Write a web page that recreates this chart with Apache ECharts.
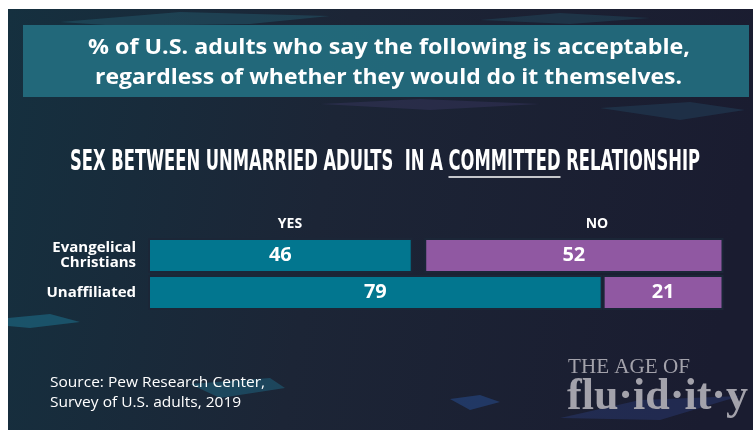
<!DOCTYPE html>
<html>
<head>
<meta charset="utf-8">
<script src="https://cdn.jsdelivr.net/npm/echarts@6/dist/echarts.min.js"></script>
<style>
html,body{margin:0;padding:0;background:#fff;}
#chart{width:753px;height:430px;}
</style>
</head>
<body>
<div id="chart"></div>
<script>
// ---- data ----
const categories = ['Evangelical\nChristians', 'Unaffiliated'];
const yesValues = [46, 79];
const noValues = [52, 21];
const seriesNames = ['YES', 'NO'];
const titleLines = ['% of U.S. adults who say the following is acceptable,', 'regardless of whether they would do it themselves.'];
const subtitleParts = ['SEX BETWEEN UNMARRIED ADULTS  IN A ', 'COMMITTED', ' RELATIONSHIP'];
const sourceLines = ['Source: Pew Research Center,', 'Survey of U.S. adults, 2019'];
const logoLines = ['THE AGE OF', 'flu\u00b7id\u00b7it\u00b7y'];

// ---- styles ----
const TEAL = '#02768f';
const PURPLE = '#9058a2';
const GAPCOL = '#1b2637';

const cv = document.createElement('canvas').getContext('2d');
function measure(font, t) { cv.font = font; return cv.measureText(t).width; }

// title fitting
const titleFont = 'bold 21px "Open Sans", sans-serif';
const t1s = (690 - 88) / measure(titleFont, titleLines[0]);
const t2s = (682 - 95) / measure(titleFont, titleLines[1]);

// subtitle fitting
const subFont = 'bold 28px "Liberation Sans Narrow", "DejaVu Sans Condensed", sans-serif';
const sw = subtitleParts.map(t => measure(subFont, t));
const subLeft = 70, subRight = 700;
const subScale = (subRight - subLeft) / (sw[0] + sw[1] + sw[2]);
const x1 = subLeft + sw[0] * subScale;
const x2 = x1 + sw[1] * subScale;

// source fitting
const srcFont = '15px "Open Sans", sans-serif';
const srcScale = (265 - 50) / measure(srcFont, sourceLines[0]);

// logo fitting
const logoFont1 = '22px "Liberation Serif", "DejaVu Serif", serif';
const logoFont2 = 'bold 44px "Liberation Serif", "DejaVu Serif", serif';
const l1s = (690 - 568) / measure(logoFont1, logoLines[0]);
const l2s = (748 - 567) / measure(logoFont2, logoLines[1]);

const chart = echarts.init(document.getElementById('chart'), null, {renderer: 'canvas'});

const subY = 163;
const graphics = [
  // background
  {type: 'rect', z: -20, shape: {x: 8, y: 9, width: 745, height: 421},
   style: {fill: new echarts.graphic.LinearGradient(0, 0, 1, 0.3, [
     {offset: 0, color: '#15303f'}, {offset: 0.45, color: '#1c2536'}, {offset: 1, color: '#1a1c30'}])}},
  // texture strokes
  {type: 'polygon', z: -19, shape: {points: [[60, 22], [180, 12], [330, 16], [250, 24], [120, 26]]}, style: {fill: 'rgba(40,110,130,0.35)'}},
  {type: 'polygon', z: -19, shape: {points: [[480, 20], [560, 13], [650, 18], [570, 24]]}, style: {fill: 'rgba(40,110,130,0.25)'}},
  {type: 'polygon', z: -19, shape: {points: [[320, 104], [420, 99], [540, 104], [430, 110]]}, style: {fill: 'rgba(80,70,130,0.25)'}},
  {type: 'polygon', z: -19, shape: {points: [[600, 108], [690, 102], [745, 110], [680, 120]]}, style: {fill: 'rgba(40,90,120,0.3)'}},
  {type: 'polygon', z: -19, shape: {points: [[8, 318], [50, 314], [80, 322], [30, 328], [8, 326]]}, style: {fill: 'rgba(30,120,150,0.5)'}},
  {type: 'polygon', z: -19, shape: {points: [[190, 384], [270, 378], [285, 388], [220, 398]]}, style: {fill: 'rgba(30,110,140,0.45)'}},
  {type: 'polygon', z: -19, shape: {points: [[450, 399], [480, 395], [500, 402], [470, 410]]}, style: {fill: 'rgba(40,80,150,0.5)'}},
  {type: 'polygon', z: -19, shape: {points: [[560, 418], [640, 400], [740, 396], [660, 420]]}, style: {fill: 'rgba(50,70,140,0.35)'}},
  // title box
  {type: 'rect', z: -5, shape: {x: 23, y: 25, width: 726, height: 72}, style: {fill: '#236b7d', opacity: 0.95}},
  {type: 'text', x: 88, y: 48, scaleX: t1s, style: {text: titleLines[0], fill: '#ffffff', font: titleFont, textVerticalAlign: 'middle'}},
  {type: 'text', x: 95, y: 78, scaleX: t2s, style: {text: titleLines[1], fill: '#ffffff', font: titleFont, textVerticalAlign: 'middle'}},
  // subtitle
  {type: 'text', x: subLeft, y: subY, scaleX: subScale, style: {text: subtitleParts[0], fill: '#ffffff', font: subFont, textVerticalAlign: 'middle'}},
  {type: 'text', x: x1, y: subY, scaleX: subScale, style: {text: subtitleParts[1], fill: '#ffffff', font: subFont, textVerticalAlign: 'middle'}},
  {type: 'text', x: x2, y: subY, scaleX: subScale, style: {text: subtitleParts[2], fill: '#ffffff', font: subFont, textVerticalAlign: 'middle'}},
  {type: 'line', shape: {x1: x1, y1: 177, x2: x2, y2: 177}, style: {stroke: '#ffffff', lineWidth: 1.5}},
  // headers
  {type: 'text', x: 290, y: 224, style: {text: seriesNames[0], fill: '#ffffff', font: 'bold 14px "Open Sans", sans-serif', textAlign: 'center', textVerticalAlign: 'middle'}},
  {type: 'text', x: 597, y: 224, style: {text: seriesNames[1], fill: '#ffffff', font: 'bold 14px "Open Sans", sans-serif', textAlign: 'center', textVerticalAlign: 'middle'}},
  // source
  {type: 'text', x: 50, y: 383, scaleX: srcScale, style: {text: sourceLines[0], fill: '#ffffff', font: srcFont, textVerticalAlign: 'middle'}},
  {type: 'text', x: 50, y: 403, scaleX: srcScale, style: {text: sourceLines[1], fill: '#ffffff', font: srcFont, textVerticalAlign: 'middle'}},
  // logo
  {type: 'text', x: 568, y: 367, scaleX: l1s, style: {text: logoLines[0], fill: '#a3a2ab', font: logoFont1, textVerticalAlign: 'middle'}},
  {type: 'text', x: 567, y: 398, scaleX: l2s, style: {text: logoLines[1], fill: '#a3a2ab', font: logoFont2, textVerticalAlign: 'middle'}}
];

const option = {
  backgroundColor: '#ffffff',
  animation: false,
  graphic: {elements: graphics},
  grid: {left: 148, right: 29.5, top: 237, height: 74, containLabel: false},
  xAxis: [
    {type: 'value', min: 0, max: 100, show: false},
    {type: 'value', min: 0, max: 100, show: false, inverse: true}
  ],
  yAxis: {
    type: 'category', data: categories, inverse: true,
    axisLine: {show: false}, axisTick: {show: false}, splitLine: {show: false},
    axisLabel: {color: '#ffffff', fontFamily: '"Open Sans", sans-serif', fontWeight: 'bold', fontSize: 15, lineHeight: 15, align: 'right', margin: 12}
  },
  series: [
    {name: seriesNames[0], type: 'bar', xAxisIndex: 0, data: yesValues, barWidth: 35, barGap: '-100%',
     itemStyle: {color: TEAL, borderColor: GAPCOL, borderWidth: 2},
     label: {show: true, position: 'inside', color: '#ffffff', fontFamily: '"Open Sans", sans-serif', fontWeight: 'bold', fontSize: 20}},
    {name: seriesNames[1], type: 'bar', xAxisIndex: 1, data: noValues, barWidth: 35, barGap: '-100%',
     itemStyle: {color: PURPLE, borderColor: GAPCOL, borderWidth: 2},
     label: {show: true, position: 'inside', color: '#ffffff', fontFamily: '"Open Sans", sans-serif', fontWeight: 'bold', fontSize: 20}}
  ]
};
chart.setOption(option);
</script>
</body>
</html>
